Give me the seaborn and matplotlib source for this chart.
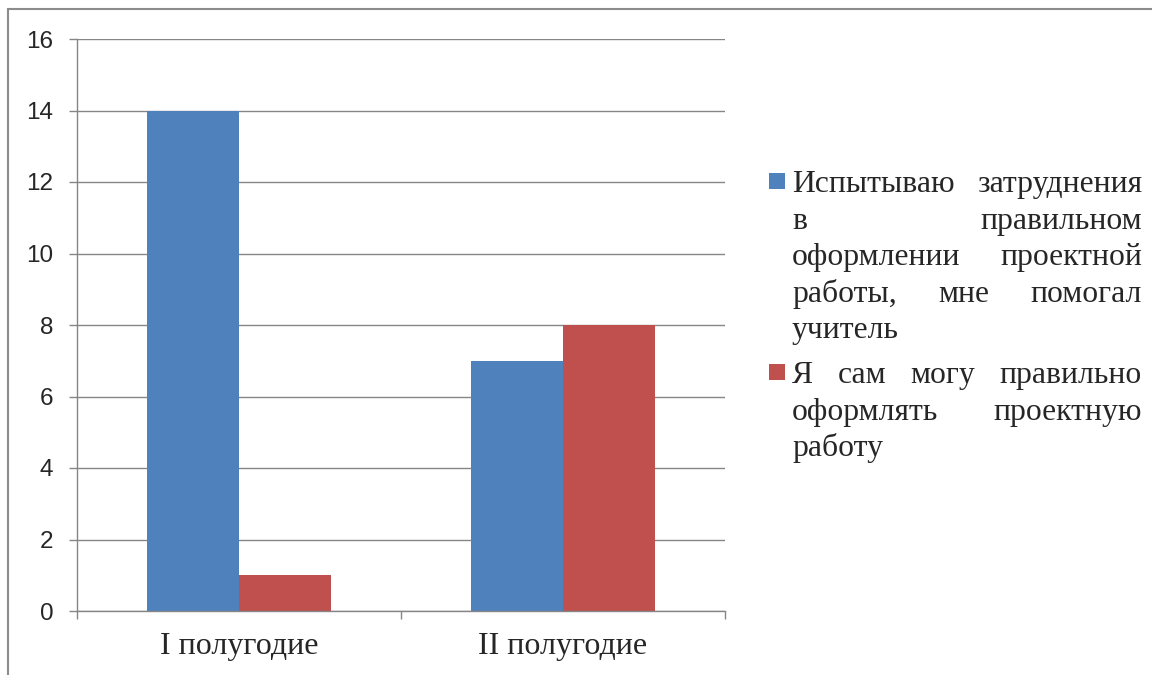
import pandas as pd
import matplotlib.pyplot as plt
from matplotlib.lines import Line2D
from matplotlib.patches import Rectangle
import seaborn as sns

periods = ['I полугодие', 'II полугодие']
series_names = ['Испытываю затруднения в правильном оформлении проектной работы, мне помогал учитель',
                'Я сам могу правильно оформлять проектную работу']
difficulty = [14, 7]
independent = [1, 8]
colors = ['#4F81BD', '#C0504D']

# legend text is justified in the original, so keep the line breaks
legend_lines = [
    ['Испытываю затруднения', 'в правильном', 'оформлении проектной', 'работы, мне помогал', 'учитель'],
    ['Я сам могу правильно', 'оформлять проектную', 'работу'],
]

df = pd.DataFrame({
    'period': periods * 2,
    'value': difficulty + independent,
    'series': [series_names[0]] * 2 + [series_names[1]] * 2,
})

sns.set_style('white')
W, H = 1152, 675
fig = plt.figure(figsize=(W / 100, H / 100), dpi=100)
ax = fig.add_axes([77 / W, 1 - 611 / H, 648 / W, 572 / H])

sns.barplot(data=df, x='period', y='value', hue='series', palette=colors,
            width=0.568, saturation=1, linewidth=0, legend=False, ax=ax)

grey = '#868686'
ax.set_ylim(0, 16)
ax.set_xlim(-0.5, 1.5)
ax.set_yticks(range(0, 17, 2))
ax.set_xticks([-0.5, 0.5, 1.5], minor=True)
ax.yaxis.grid(True, color=grey, lw=1)
ax.set_axisbelow(True)
ax.set_xlabel('')
ax.set_ylabel('')
for s in ['top', 'right']:
    ax.spines[s].set_visible(False)
for s in ['left', 'bottom']:
    ax.spines[s].set_color(grey)
    ax.spines[s].set_linewidth(1)

ax.tick_params(axis='y', which='major', left=True, length=6, color=grey, width=1, pad=11,
               labelsize=17.5)
ax.tick_params(axis='x', which='major', length=0, pad=15, labelsize=23)
ax.tick_params(axis='x', which='minor', bottom=True, length=6, color=grey, width=1)
for lab in ax.get_yticklabels():
    lab.set_fontfamily('Liberation Sans')
for lab in ax.get_xticklabels():
    lab.set_fontfamily('Liberation Serif')

# outer frame (only top and left edges visible in the original)
fig.add_artist(Line2D([8 / W, 1], [1 - 9 / H, 1 - 9 / H], transform=fig.transFigure, color='#8c8c8c', lw=1.5))
fig.add_artist(Line2D([8 / W, 8 / W], [0, 1 - 9 / H], transform=fig.transFigure, color='#8c8c8c', lw=1.5))

# justified legend
renderer = fig.canvas.get_renderer()
x0, x1 = 792, 1142
line_h = 36.6
starts = [192, 383]
boxes = [173, 364]
fs = 22.8
for k, lines in enumerate(legend_lines):
    fig.add_artist(Rectangle((769 / W, 1 - (boxes[k] + 16) / H), 16 / W, 16 / H,
                             transform=fig.transFigure, color=colors[k], lw=0))
    for i, line in enumerate(lines):
        y = 1 - (starts[k] + i * line_h) / H
        words = line.split()
        last = i == len(lines) - 1
        if last or len(words) == 1:
            fig.text(x0 / W, y, line, fontsize=fs, family='Liberation Serif', va='baseline', ha='left')
            continue
        texts = [fig.text(0, y, w, fontsize=fs, family='Liberation Serif', va='baseline', ha='left')
                 for w in words]
        widths = [t.get_window_extent(renderer).width for t in texts]
        gap = (x1 - x0 - sum(widths)) / (len(words) - 1)
        x = x0
        for t, wd in zip(texts, widths):
            t.set_x(x / W)
            x += wd + gap

fig.savefig('out.png', dpi=100)
